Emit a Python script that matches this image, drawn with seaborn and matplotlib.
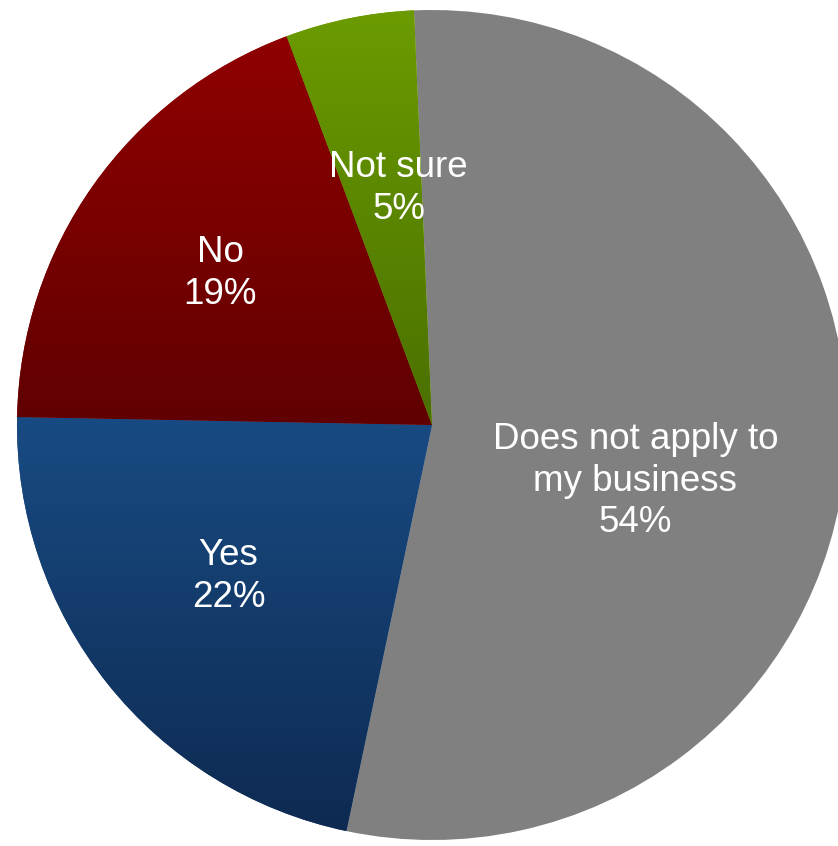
import numpy as np
import matplotlib
matplotlib.use("Agg")
import matplotlib.pyplot as plt
import seaborn as sns
from matplotlib.colors import LinearSegmentedColormap

sns.set_theme(style="white")
plt.rcParams["font.family"] = ["Liberation Sans", "DejaVu Sans"]

# Survey responses
categories = ["Does not apply to\nmy business", "Yes", "No", "Not sure"]
shares = [54, 22, 19, 5]

# Vertical gradient per slice: (top colour, bottom colour)
top_colors = ["#808080", "#184b83", "#900000", "#6b9b00"]
bottom_colors = ["#808080", "#0e2a51", "#600000", "#4a7000"]

# Label anchor offsets from the pie centre (in pie radii)
label_offsets = [(0.49, -0.135), (-0.49, -0.365), (-0.51, 0.365), (-0.08, 0.57)]

W, H = 838, 846
fig = plt.figure(figsize=(W / 100, H / 100), dpi=100)
ax = fig.add_axes([0, 0, 1, 1])

cx, cy, r = 432, 421, 415
wedges, _ = ax.pie(
    shares,
    startangle=92.5,
    counterclock=False,
    colors=top_colors,
    radius=r,
    center=(cx, cy),
    wedgeprops=dict(linewidth=0, antialiased=True),
)

# Overlay a vertical gradient clipped to each slice
for wedge, c_top, c_bot in zip(wedges, top_colors, bottom_colors):
    if c_top == c_bot:
        continue
    verts = wedge.get_path().vertices
    x0, y0 = verts.min(axis=0)
    x1, y1 = verts.max(axis=0)
    cmap = LinearSegmentedColormap.from_list("g", [c_bot, c_top])
    grad = np.linspace(0, 1, 256).reshape(-1, 1)
    im = ax.imshow(grad, cmap=cmap, origin="lower", aspect="auto",
                   extent=(x0, x1, y0, y1), interpolation="bicubic", zorder=2)
    im.set_clip_path(wedge)

for label, share, (dx, dy) in zip(categories, shares, label_offsets):
    ax.text(cx + dx * r, cy + dy * r, f"{label}\n{share}%",
            ha="center", va="center", color="white", fontsize=26.5,
            linespacing=1.25, zorder=5)

ax.set_xlim(0, W)
ax.set_ylim(0, H)
ax.set_aspect("equal")
ax.axis("off")

fig.savefig("out.png", dpi=100, facecolor="white")
